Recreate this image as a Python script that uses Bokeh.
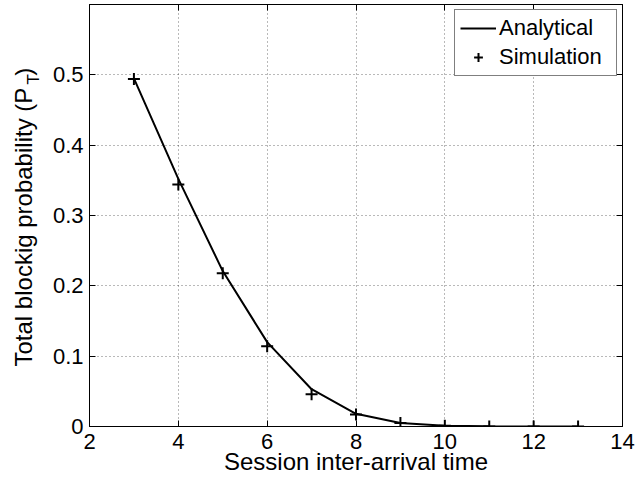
import numpy as np
from bokeh.plotting import figure
from bokeh.models import FixedTicker, LinearAxis, Label, Range1d, Legend, LegendItem
from bokeh.embed import file_html
from bokeh.resources import INLINE

# ---- data ----
inter_arrival = [3, 4, 5, 6, 7, 8, 9, 10, 11, 12, 13]
analytical = [0.495, 0.352, 0.221, 0.120, 0.053, 0.018, 0.005, 0.001, 0.0002, 0.00003, 0.0]
simulation = [0.494, 0.344, 0.218, 0.114, 0.046, 0.017, 0.005, 0.001, 0.0, 0.0, 0.0]
x_ticks = [2, 4, 6, 8, 10, 12, 14]
y_ticks = [0, 0.1, 0.2, 0.3, 0.4, 0.5]
x_label = "Session inter-arrival time"
y_label_main = "Total blockig probability (P\u2002)"
y_label_sub = "T"
series_names = ["Analytical", "Simulation"]

FONT = "Liberation Sans"

p = figure(width=636, height=480, output_backend="svg", toolbar_location=None,
           x_range=Range1d(2, 14), y_range=Range1d(0, 0.6),
           min_border_left=89, min_border_right=14, min_border_top=4, min_border_bottom=54,
           background_fill_color="white", border_fill_color="white")
p.outline_line_color = "black"
p.outline_line_width = 1

# main axes
for ax, ticks in ((p.xaxis[0], x_ticks), (p.yaxis[0], y_ticks)):
    ax.ticker = FixedTicker(ticks=ticks)
    ax.major_tick_in = 6
    ax.major_tick_out = 0
    ax.minor_tick_line_color = None
    ax.axis_line_color = "black"
    ax.major_tick_line_color = "black"
    ax.major_label_text_font = FONT
    ax.major_label_text_font_size = "22px"
    ax.major_label_text_color = "black"
p.xaxis[0].major_label_standoff = 7
p.yaxis[0].major_label_standoff = 6
p.yaxis[0].major_label_overrides = {0: "0"}

xa = p.xaxis[0]
xa.axis_label = x_label
xa.axis_label_text_font = FONT
xa.axis_label_text_font_size = "24px"
xa.axis_label_text_font_style = "normal"
xa.axis_label_text_color = "black"
xa.axis_label_standoff = -4

# top and right box axes with inward ticks (no labels drawn)
top = LinearAxis(ticker=FixedTicker(ticks=x_ticks), major_tick_in=6, major_tick_out=0,
                 minor_tick_line_color=None, major_label_text_font_size="1px",
                 major_label_text_color=None, major_label_standoff=0,
                 axis_line_color="black")
right = LinearAxis(ticker=FixedTicker(ticks=y_ticks), major_tick_in=6, major_tick_out=0,
                   minor_tick_line_color=None, major_label_text_font_size="1px",
                   major_label_text_color=None, major_label_standoff=0,
                   axis_line_color="black")
p.add_layout(top, "above")
p.add_layout(right, "right")

# grid
for g in (p.xgrid[0], p.ygrid[0]):
    g.grid_line_color = "black"
    g.grid_line_alpha = 0.55
    g.grid_line_dash = "1 3"
    g.grid_line_width = 1
p.xgrid[0].ticker = FixedTicker(ticks=x_ticks)
p.ygrid[0].ticker = FixedTicker(ticks=y_ticks)

# data
r_line = p.line(inter_arrival, analytical, line_color="black", line_width=2)
r_sim = p.scatter(inter_arrival, simulation, marker="cross", size=12,
                  line_color="black", line_width=2)

legend = Legend(items=[LegendItem(label=series_names[0], renderers=[r_line]),
                       LegendItem(label=series_names[1], renderers=[r_sim])],
                location="top_right")
legend.border_line_color = "black"
legend.border_line_width = 1
legend.background_fill_color = "white"
legend.background_fill_alpha = 1
legend.label_text_font = FONT
legend.label_text_font_size = "22px"
legend.label_text_color = "black"
legend.glyph_width = 36
legend.glyph_height = 22
legend.label_height = 22
legend.label_width = 112
legend.label_standoff = 3
legend.spacing = 3
legend.padding = 5
legend.margin = 5
p.add_layout(legend)

# y label pieces in the left side panel (P with subscript T)
common = dict(x_units="screen", y_units="screen", text_font=FONT, text_color="black",
              text_baseline="alphabetic", angle=np.pi / 2, text_align="left")
p.add_layout(Label(x=1, y=60, text=y_label_main, text_font_size="24px", **common), "left")
p.add_layout(Label(x=30, y=342, text=y_label_sub, text_font_size="17px", **common), "left")

open("out.html", "w").write(file_html(p, INLINE))
